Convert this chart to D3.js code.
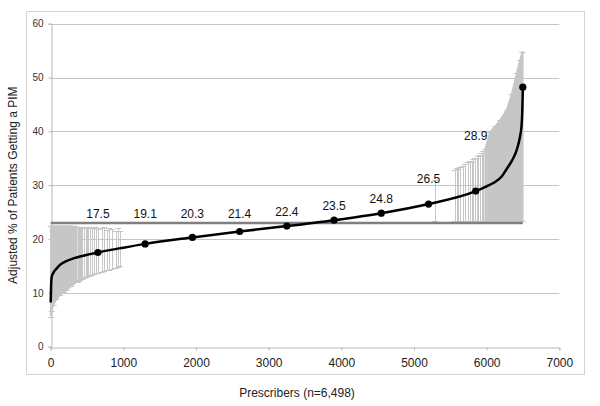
<!DOCTYPE html>
<html>
<head>
<meta charset="utf-8">
<script src="https://cdn.jsdelivr.net/npm/d3@7"></script>
<style>
  html, body { margin: 0; padding: 0; background: #fff; }
  svg { display: block; font-family: "Liberation Sans", Arial, sans-serif; }
</style>
</head>
<body>
<svg id="chart" width="600" height="406"></svg>
<script>
// ---- data ----
const xTicks = [0, 1000, 2000, 3000, 4000, 5000, 6000, 7000];
const yTicks = [0, 10, 20, 30, 40, 50, 60];

// sorted adjusted rate per prescriber (black curve)
const curveRank  = [0, 5, 14, 40, 80, 128, 200, 311, 450, 646, 1000, 1300, 1950, 2600, 3250, 3900, 4550, 5200, 5850, 6000, 6092, 6207, 6275, 6350, 6413, 6459, 6480, 6490, 6495, 6498];
const curveValue = [8.2, 11.0, 13.0, 13.8, 14.5, 15.2, 15.8, 16.4, 16.9, 17.5, 18.4, 19.1, 20.3, 21.4, 22.4, 23.5, 24.8, 26.5, 28.9, 29.8, 30.4, 31.6, 33.0, 34.6, 36.5, 39.0, 41.0, 43.5, 46.0, 48.2];

// decile markers
const decileRank  = [650, 1300, 1950, 2600, 3250, 3900, 4550, 5200, 5850, 6498];
const decileValue = [17.5, 19.1, 20.3, 21.4, 22.4, 23.5, 24.8, 26.5, 28.9, 48.2];
const decileLabel = ["17.5", "19.1", "20.3", "21.4", "22.4", "23.5", "24.8", "26.5", "28.9", ""];

// overall mean reference line
const benchmarkValue = 23.0;
const benchmarkFrom = 0;
const benchmarkTo = 6498;

// dense block of confidence intervals, low-rate prescribers
const leftBandRank = [0, 15, 40, 80, 130, 180, 220, 280, 360];
const leftBandLow  = [5.6, 6.6, 7.8, 8.8, 9.6, 10.1, 10.5, 11.2, 12.0];
const leftBandHigh = [22.4, 22.4, 22.4, 22.4, 22.4, 22.4, 22.4, 22.4, 22.3];

// dense block of confidence intervals, high-rate prescribers
const rightBandRank = [5980, 6046, 6120, 6184, 6275, 6345, 6413, 6459, 6490, 6498];
const rightBandLow  = [23.3, 23.3, 23.3, 23.3, 23.3, 23.3, 23.3, 23.3, 23.3, 23.3];
const rightBandHigh = [36.8, 39.9, 41.0, 42.1, 44.0, 47.0, 50.8, 53.3, 54.8, 54.8];

// individual (sparser) confidence intervals
const barRank = [372, 385, 403, 420, 435, 462, 480, 495, 517, 540, 564, 600, 625, 655, 702, 737, 770, 802, 839, 894, 930, 955,
                 5290, 5560, 5587, 5610, 5633, 5670, 5702, 5740, 5771, 5795, 5816, 5840, 5862, 5885, 5908, 5931, 5955];
const barLow  = [12.1, 12.2, 12.4, 12.5, 12.6, 12.8, 12.9, 13.0, 13.1, 13.2, 13.3, 13.5, 13.6, 13.7, 13.9, 14.0, 14.2, 14.3, 14.4, 14.6, 14.8, 14.9,
                 23.3, 23.3, 23.3, 23.3, 23.3, 23.3, 23.3, 23.3, 23.3, 23.3, 23.3, 23.3, 23.3, 23.3, 23.3, 23.3, 23.3];
const barHigh = [22.3, 22.3, 22.2, 22.3, 22.1, 22.3, 22.2, 22.0, 22.3, 22.1, 22.2, 22.0, 22.3, 21.8, 22.1, 22.2, 21.6, 22.0, 21.9, 21.5, 22.0, 21.4,
                 31.0, 32.8, 33.2, 33.0, 33.4, 33.6, 34.0, 34.3, 34.5, 34.3, 34.8, 35.0, 35.0, 35.4, 35.6, 36.0, 36.4];

// ---- drawing ----
const svg = d3.select("#chart");
const margin = { left: 50.7, right: 600 - 559.3, top: 23.7, bottom: 406 - 346.7 };
const W = 600, H = 406;
const x = d3.scaleLinear().domain([0, 7000]).range([margin.left, W - margin.right]);
const y = d3.scaleLinear().domain([0, 60]).range([H - margin.bottom, margin.top]);

// outer frame
svg.append("rect").attr("x", 26.5).attr("y", 11.5).attr("width", 558).attr("height", 363)
  .attr("fill", "none").attr("stroke", "#d4d4d4").attr("stroke-width", 1);

// gridlines
svg.append("g").selectAll("line").data(yTicks.filter(d => d > 0)).join("line")
  .attr("x1", x(0)).attr("x2", x(7000))
  .attr("y1", d => Math.round(y(d)) + 0.5).attr("y2", d => Math.round(y(d)) + 0.5)
  .attr("stroke", "#c4c4c4").attr("stroke-width", 1);

// axes
const yAxis = d3.axisLeft(y).tickValues(yTicks).tickSize(3).tickPadding(5);
const gy = svg.append("g").attr("transform", `translate(${Math.round(x(0)) + 0.5},0)`).call(yAxis);
gy.select(".domain").attr("stroke", "#b8b8b8");
gy.selectAll(".tick line").attr("stroke", "#b8b8b8");
gy.selectAll(".tick text").attr("font-size", 10).attr("fill", "#333")
  .attr("font-family", "Liberation Sans, Arial, sans-serif");

const xAxis = d3.axisBottom(x).tickValues(xTicks).tickSize(3).tickPadding(8).tickFormat(d3.format("d"));
const gx = svg.append("g").attr("transform", `translate(0,${Math.round(y(0)) + 0.5})`).call(xAxis);
gx.select(".domain").attr("stroke", "#b8b8b8");
gx.selectAll(".tick line").attr("stroke", "#b8b8b8");
gx.selectAll(".tick text").attr("font-size", 12).attr("fill", "#222")
  .attr("font-family", "Liberation Sans, Arial, sans-serif");

// confidence bands (dense)
const barColor = "#c6c6c6";
function band(rank, low, high) {
  const pts = rank.map((r, i) => ({ r, lo: low[i], hi: high[i] }));
  const area = d3.area().x(d => x(d.r)).y0(d => y(d.lo)).y1(d => y(d.hi)).curve(d3.curveLinear);
  svg.append("path").datum(pts).attr("d", area).attr("fill", barColor).attr("stroke", barColor).attr("stroke-width", 1.5);
  // caps along both edges
  const caps = svg.append("g").attr("stroke", barColor).attr("stroke-width", 1);
  pts.forEach(d => {
    [d.lo, d.hi].forEach(v => {
      caps.append("line").attr("x1", x(d.r) - 3).attr("x2", x(d.r) + 3)
        .attr("y1", Math.round(y(v)) + 0.5).attr("y2", Math.round(y(v)) + 0.5);
    });
  });
}
band(leftBandRank, leftBandLow, leftBandHigh);
band(rightBandRank, rightBandLow, rightBandHigh);

// individual bars
const bars = barRank.map((r, i) => ({ r, lo: barLow[i], hi: barHigh[i] }));
const gb = svg.append("g").attr("stroke", barColor).attr("stroke-width", 1);
gb.selectAll("line.v").data(bars).join("line").attr("class", "v")
  .attr("x1", d => Math.round(x(d.r)) + 0.5).attr("x2", d => Math.round(x(d.r)) + 0.5)
  .attr("y1", d => y(d.lo)).attr("y2", d => y(d.hi));
gb.selectAll("line.lo").data(bars).join("line").attr("class", "lo")
  .attr("x1", d => x(d.r) - 3).attr("x2", d => x(d.r) + 3)
  .attr("y1", d => Math.round(y(d.lo)) + 0.5).attr("y2", d => Math.round(y(d.lo)) + 0.5);
gb.selectAll("line.hi").data(bars).join("line").attr("class", "hi")
  .attr("x1", d => x(d.r) - 3).attr("x2", d => x(d.r) + 3)
  .attr("y1", d => Math.round(y(d.hi)) + 0.5).attr("y2", d => Math.round(y(d.hi)) + 0.5);

// benchmark line
svg.append("line")
  .attr("x1", x(benchmarkFrom)).attr("x2", x(benchmarkTo))
  .attr("y1", y(benchmarkValue)).attr("y2", y(benchmarkValue))
  .attr("stroke", "#7f7f7f").attr("stroke-width", 2.5);

// curve
const curvePts = curveRank.map((r, i) => [r, curveValue[i]]);
svg.append("path").datum(curvePts)
  .attr("d", d3.line().x(d => x(d[0])).y(d => y(d[1])).curve(d3.curveMonotoneX))
  .attr("fill", "none").attr("stroke", "#000").attr("stroke-width", 2.5);

// decile markers
svg.append("g").selectAll("circle").data(decileRank.map((r, i) => ({ r, v: decileValue[i] }))).join("circle")
  .attr("cx", d => x(d.r)).attr("cy", d => y(d.v)).attr("r", 3.6).attr("fill", "#000");

// decile labels
const labelRaise = { "26.5": 11, "28.9": 41 };
svg.append("g").selectAll("text").data(decileRank.map((r, i) => ({ r, v: decileValue[i], t: decileLabel[i] })).filter(d => d.t))
  .join("text")
  .attr("x", d => x(d.r))
  .attr("y", d => Math.min(y(d.v) - 14, y(benchmarkValue) - 9.5) - (labelRaise[d.t] || 0) + 4.3)
  .attr("text-anchor", "middle").attr("font-size", 12).attr("fill", "#111")
  .text(d => d.t);

// axis titles
svg.append("text").attr("x", 297).attr("y", 397).attr("text-anchor", "middle")
  .attr("font-size", 12).attr("fill", "#222").text("Prescribers (n=6,498)");
svg.append("text").attr("transform", `translate(14,${(y(0) + y(60)) / 2 + 0}) rotate(-90)`)
  .attr("text-anchor", "middle").attr("dominant-baseline", "middle")
  .attr("font-size", 12).attr("fill", "#222").text("Adjusted % of Patients Getting a PIM");
</script>
</body>
</html>
